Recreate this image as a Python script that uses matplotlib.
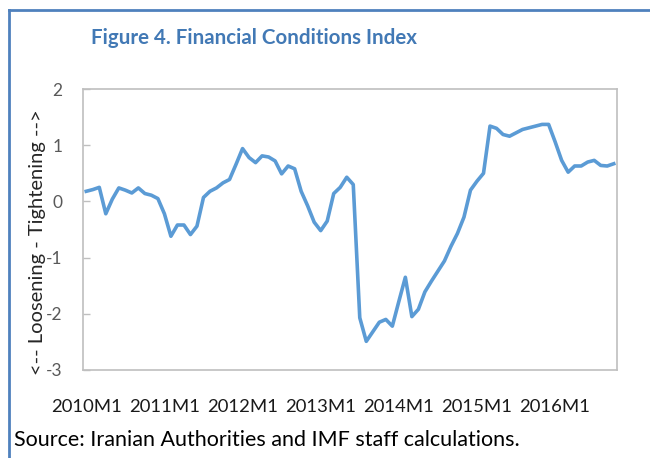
import matplotlib
matplotlib.use("Agg")
import matplotlib.pyplot as plt
from matplotlib.lines import Line2D

plt.rcParams['font.family'] = ['Lato', 'DejaVu Sans']

# Financial Conditions Index, monthly 2010M1 .. 2016M10
fci = [0.18, 0.21, 0.25, -0.22, 0.04, 0.24, 0.20, 0.15, 0.24, 0.14, 0.11, 0.05,
       -0.22, -0.62, -0.42, -0.42, -0.59, -0.44, 0.07, 0.18, 0.24, 0.33, 0.39, 0.66,
       0.94, 0.78, 0.69, 0.81, 0.79, 0.72, 0.49, 0.63, 0.58, 0.18, -0.08, -0.37,
       -0.52, -0.35, 0.14, 0.25, 0.43, 0.30, -2.07, -2.49, -2.32, -2.15, -2.10, -2.22,
       -1.78, -1.35, -2.05, -1.92, -1.61, -1.42, -1.24, -1.06, -0.80, -0.57, -0.28, 0.20,
       0.36, 0.50, 1.34, 1.30, 1.19, 1.16, 1.22, 1.28, 1.31, 1.34, 1.37, 1.37,
       1.06, 0.73, 0.52, 0.63, 0.63, 0.70, 0.73, 0.64, 0.63, 0.67]
years = [2010, 2011, 2012, 2013, 2014, 2015, 2016]
tick_labels = [f"{y}M1" for y in years]
yticks = [-3, -2, -1, 0, 1, 2]

title = "Figure 4. Financial Conditions Index"
ylabel = "<-- Loosening - Tightening -->"
source = "Source: Iranian Authorities and IMF staff calculations."

fig = plt.figure(figsize=(6.5, 4.58), dpi=100)
ax = fig.add_axes([83/650, 1-370/458, (617-83)/650, (370-89)/458])

x = list(range(len(fci)))
ax.plot(x, fci, color="#5B9BD5", lw=2.6, solid_joinstyle="round")
ax.set_xlim(-0.5, len(fci) - 0.5)
ax.set_ylim(-3, 2)
ax.set_yticks(yticks)
ax.set_yticklabels([str(v) for v in yticks])
ax.set_xticks([12 * i for i in range(len(years))])
ax.set_xticklabels(tick_labels)
for s in ax.spines.values():
    s.set_color("#BFBFBF")
    s.set_linewidth(1.2)
ax.tick_params(axis="y", direction="in", length=5, width=1, color="#BFBFBF",
               labelsize=12.5, labelcolor="#595959", pad=15)
ax.tick_params(axis="x", length=0, labelsize=13.3, labelcolor="#1a1a1a", pad=21)

fig.text(38/650, 1-242/458, ylabel, rotation=90, ha="center", va="center",
         fontsize=14.5, color="#262626")
fig.text(91/650, 1-38/458, title, ha="left", va="center", fontsize=14.8,
         fontweight="bold", color="#4279B5")
fig.text(14/650, 1-440/458, source, ha="left", va="center", fontsize=15.5,
         color="#000000")

# blue frame (left and top)
fig.add_artist(Line2D([9/650, 9/650], [0, 1-10/458], transform=fig.transFigure,
                      color="#4F81BD", lw=2))
fig.add_artist(Line2D([9/650, 1], [1-10/458, 1-10/458], transform=fig.transFigure,
                      color="#4F81BD", lw=2))

fig.savefig("out.png", dpi=100)
